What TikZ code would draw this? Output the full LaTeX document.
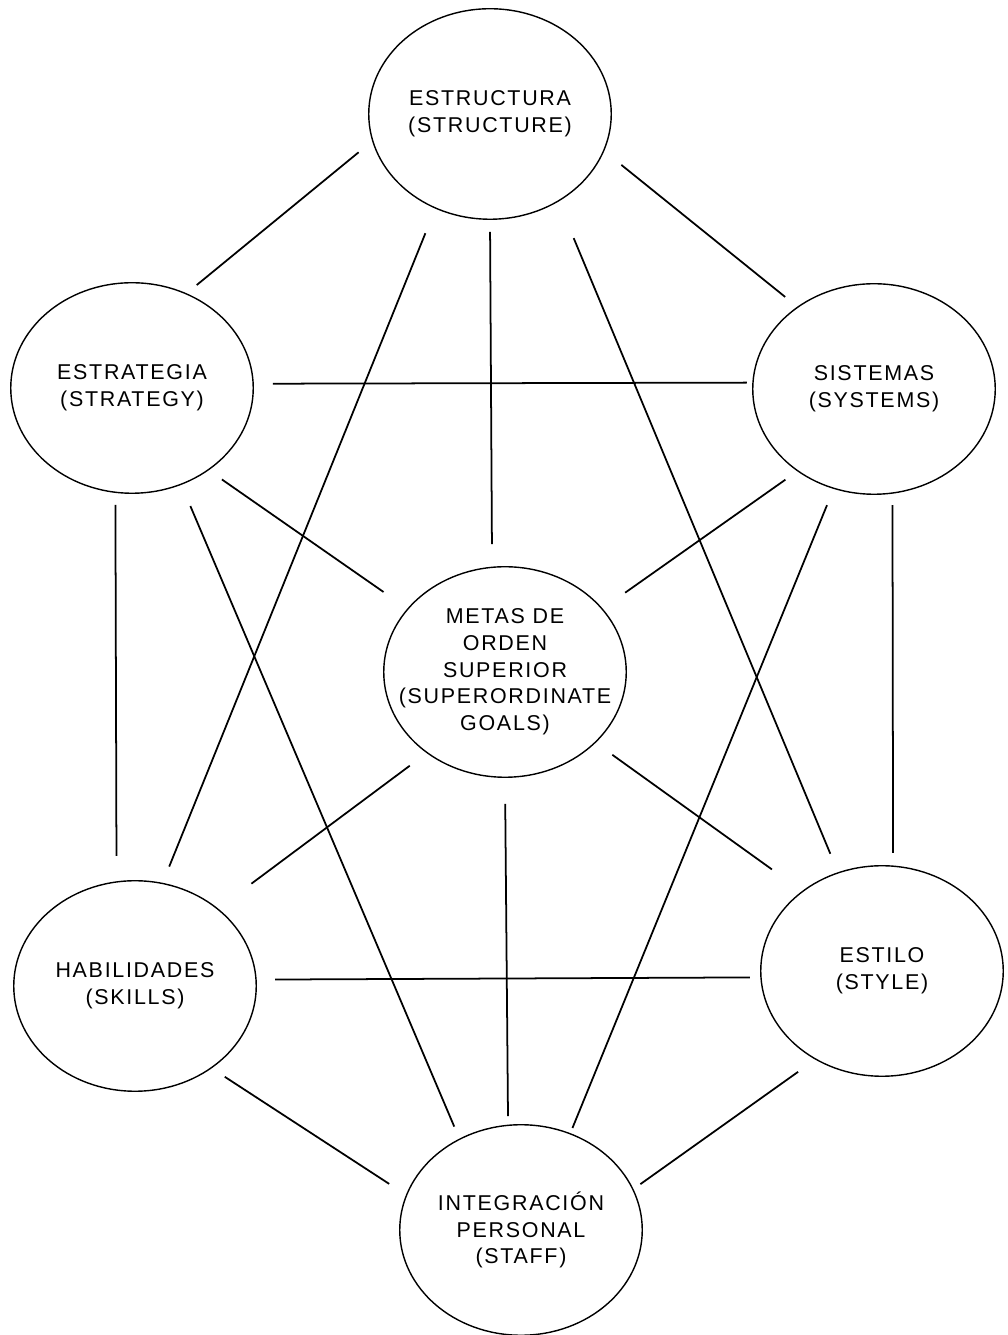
\documentclass[tikz,border=0pt]{standalone}
\usepackage{fontspec}
\setmainfont{Liberation Sans}[LetterSpace=8]
\usepackage{tikz}
\usetikzlibrary{shapes.geometric}

\tikzset{
  pod/.style={draw, ellipse, line width=0.8pt, minimum width=4.85cm, minimum height=4.21cm, inner sep=0pt},
  tag/.style={align=center, inner sep=0pt, font=\fontsize{12.2pt}{15.2pt}\selectfont},
  link/.style={line width=1pt}
}

\begin{document}
\begin{tikzpicture}
        \useasboundingbox (0,0) rectangle (20.16,26.70);
        % Ellipses
        \node[pod] (estructura) at (9.80,24.42) {};
        \node[pod] (estrategia) at (2.64,18.94) {};
        \node[pod] (sistemas) at (17.48,18.92) {};
        \node[pod] (metas) at (10.10,13.26) {};
        \node[pod] (habilidades) at (2.70,6.98) {};
        \node[pod] (estilo) at (17.64,7.28) {};
        \node[pod] (integracion) at (10.42,2.10) {};
        % Labels inside
        \node[tag] (estructura-t) at (estructura) {ESTRUCTURA\\(STRUCTURE)};
        \node[tag] (estrategia-t) at (estrategia) {ESTRATEGIA\\(STRATEGY)};
        \node[tag] (sistemas-t) at (sistemas) {SISTEMAS\\(SYSTEMS)};
        \node[tag] (metas-t) at (metas) {METAS DE\\ORDEN\\SUPERIOR\\(SUPERORDINATE\\GOALS)};
        \node[tag] (habilidades-t) at (habilidades) {HABILIDADES\\(SKILLS)};
        \node[tag] (estilo-t) at (estilo) {ESTILO\\(STYLE)};
        \node[tag] (integracion-t) at (integracion) {INTEGRACIÓN\\PERSONAL\\(STAFF)};
        % Lines from estructura
        \draw[link, shorten <=0.35cm, shorten >=0.26cm] (estructura.193) -- (estrategia.60);
        \draw[link, shorten <=0.44cm, shorten >=0.31cm] (estructura.342) -- (sistemas.133);
        \draw[link, shorten <=0.53cm, shorten >=0.35cm] (estructura.240) -- (habilidades.75);
        \draw[link, shorten <=0.24cm, shorten >=0.45cm] (estructura.270) -- (metas.97);
        \draw[link, shorten <=0.79cm, shorten >=0.40cm] (estructura.308) -- (estilo.114);
        % Lines from estrategia
        \draw[link, shorten <=0.38cm, shorten >=0.11cm] (estrategia.2) -- (sistemas.177);
        \draw[link, shorten <=0.24cm, shorten >=0.51cm] (estrategia.261) -- (habilidades.100);
        \draw[link, shorten <=0.32cm, shorten >=0.58cm] (estrategia.313) -- (metas.147);
        \draw[link, shorten <=0.46cm, shorten >=0.26cm] (estrategia.297) -- (integracion.124);
        % Lines from sistemas
        \draw[link, shorten <=0.29cm, shorten >=0.55cm] (sistemas.227) -- (metas.33);
        \draw[link, shorten <=0.23cm, shorten >=0.25cm] (sistemas.280) -- (estilo.84);
        \draw[link, shorten <=0.35cm, shorten >=0.11cm] (sistemas.248) -- (integracion.63);
        % Lines from metas
        \draw[link, shorten <=0.42cm, shorten >=0.83cm] (metas.226) -- (habilidades.43);
        \draw[link, shorten <=0.41cm, shorten >=0.74cm] (metas.322) -- (estilo.135);
        \draw[link, shorten <=0.52cm, shorten >=0.17cm] (metas.270) -- (integracion.97);
        % Bottom lines
        \draw[link, shorten <=0.37cm, shorten >=0.21cm] (habilidades.3) -- (estilo.183);
        \draw[link, shorten <=0.31cm, shorten >=0.40cm] (habilidades.313) -- (integracion.163);
        \draw[link, shorten <=0.42cm, shorten >=0.17cm] (estilo.233) -- (integracion.20);
    \end{tikzpicture}
\end{document}
